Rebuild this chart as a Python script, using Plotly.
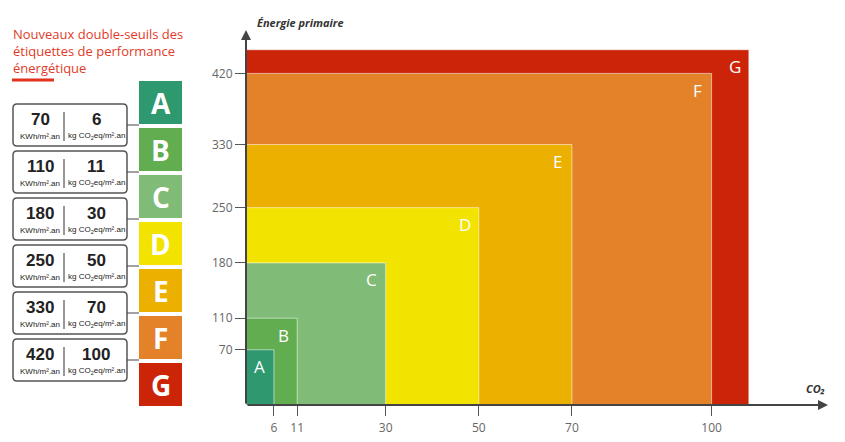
import plotly.graph_objects as go

# classes and thresholds
letters = ["A", "B", "C", "D", "E", "F", "G"]
colors = ["#2e986e", "#62ad50", "#80bc78", "#f2e400", "#ebb000", "#e38229", "#cc2408"]
ep_limits = [70, 110, 180, 250, 330, 420]      # kWh/m².an
co2_limits = [6, 11, 30, 50, 70, 100]          # kg CO2eq/m².an
# outer extent drawn for class G (no upper threshold)
g_extent_co2 = 108
g_extent_ep = 450

rect_co2 = co2_limits + [g_extent_co2]
rect_ep = ep_limits + [g_extent_ep]

# page has an 8px body margin, so the figure is 837x434 placed at (8, 8)
OFF = 8
W, H = 845 - OFF, 442 - OFF
fig = go.Figure()

# invisible traces so both axis pairs exist
fig.add_trace(go.Scatter(x=[0], y=[0], mode="markers", marker=dict(opacity=0),
                         hoverinfo="skip", showlegend=False))
fig.add_trace(go.Scatter(x=[OFF], y=[OFF], xaxis="x2", yaxis="y2", mode="markers",
                         marker=dict(opacity=0), hoverinfo="skip", showlegend=False))

shapes = []
annots = []

# nested rectangles, largest first
for i in reversed(range(len(letters))):
    shapes.append(dict(type="rect", xref="x", yref="y", x0=0, y0=0,
                       x1=rect_co2[i], y1=rect_ep[i], fillcolor=colors[i],
                       line=dict(color="rgba(255,255,255,0.55)", width=1), layer="above"))
    annots.append(dict(x=rect_co2[i], y=rect_ep[i], xref="x", yref="y", text=letters[i],
                       showarrow=False, xshift=-14, yshift=-17,
                       font=dict(family="Open Sans", size=17, color="white")))

# axis arrows
annots.append(dict(x=0, y=475, ax=0, ay=0, xref="x", yref="y", axref="x", ayref="y",
                   showarrow=True, arrowhead=2, arrowsize=1, arrowwidth=2, arrowcolor="#444", text=""))
annots.append(dict(x=125, y=0, ax=0, ay=0, xref="x", yref="y", axref="x", ayref="y",
                   showarrow=True, arrowhead=2, arrowsize=1, arrowwidth=2, arrowcolor="#444", text=""))
annots.append(dict(x=255, y=22, xref="x2", yref="y2", xanchor="left", text="<b><i>Énergie primaire</i></b>",
                   showarrow=False, font=dict(family="Open Sans", size=11, color="#333")))
annots.append(dict(x=827, y=388, xref="x2", yref="y2", xanchor="right", text="<b><i>CO₂</i></b>",
                   showarrow=False, font=dict(family="Open Sans", size=11, color="#333")))

# left panel: title
annots.append(dict(x=11, y=23, xref="x2", yref="y2", xanchor="left", yanchor="top", align="left",
                   text="Nouveaux double-seuils des<br>étiquettes de performance<br>énergétique",
                   showarrow=False, font=dict(family="Open Sans", size=13, color="#e23a28")))
shapes.append(dict(type="line", xref="x2", yref="y2", x0=12, x1=54, y0=80, y1=80,
                   line=dict(color="#e2311d", width=3)))

# colored letter squares
for i, let in enumerate(letters):
    top = 81 + 47 * i
    shapes.append(dict(type="rect", xref="x2", yref="y2", x0=139, x1=182, y0=top, y1=top + 43,
                       fillcolor=colors[i], line=dict(width=0)))
    annots.append(dict(x=160.5, y=top + 22, xref="x2", yref="y2", text="<b>" + let + "</b>",
                       showarrow=False, font=dict(family="Open Sans", size=28, color="white")))


def rounded(x0, y0, x1, y1, r):
    return (f"M {x0+r},{y0} H {x1-r} Q {x1},{y0} {x1},{y0+r} V {y1-r} Q {x1},{y1} {x1-r},{y1} "
            f"H {x0+r} Q {x0},{y1} {x0},{y1-r} V {y0+r} Q {x0},{y0} {x0+r},{y0} Z")


num_font = dict(family="Liberation Sans Narrow, Liberation Sans", size=17, color="#222")
unit_font = dict(family="Liberation Sans Narrow, Liberation Sans", size=8, color="#222")

# threshold boxes
for i in range(len(ep_limits)):
    top = 104 + 47 * i
    shapes.append(dict(type="path", xref="x2", yref="y2", path=rounded(13, top, 127, top + 42, 4),
                       fillcolor="white", line=dict(color="#555", width=1.5)))
    shapes.append(dict(type="line", xref="x2", yref="y2", x0=127, x1=139, y0=top + 21, y1=top + 21,
                       line=dict(color="#444", width=1)))
    shapes.append(dict(type="line", xref="x2", yref="y2", x0=64, x1=64, y0=top + 8, y1=top + 37,
                       line=dict(color="#333", width=1)))
    annots.append(dict(x=40, y=top + 15, xref="x2", yref="y2", text="<b>%d</b>" % ep_limits[i],
                       showarrow=False, font=num_font))
    annots.append(dict(x=96, y=top + 15, xref="x2", yref="y2", text="<b>%d</b>" % co2_limits[i],
                       showarrow=False, font=num_font))
    annots.append(dict(x=40, y=top + 32, xref="x2", yref="y2", text="KWh/m².an",
                       showarrow=False, font=unit_font))
    annots.append(dict(x=96, y=top + 32, xref="x2", yref="y2", text="kg CO<sub>2</sub>eq/m².an",
                       showarrow=False, font=unit_font))

tick_font = dict(family="Open Sans", size=12, color="#666")
fig.update_layout(
    width=W, height=H, margin=dict(l=0, r=0, t=0, b=0),
    plot_bgcolor="rgba(0,0,0,0)", paper_bgcolor="white", showlegend=False,
    xaxis=dict(domain=[(246 - OFF) / W, (828 - OFF) / W], range=[0, 125], tickvals=co2_limits,
               ticks="outside", ticklen=10, tickcolor="#555", tickfont=tick_font, ticklabelstandoff=2,
               showgrid=False, zeroline=False, showline=False, anchor="y", fixedrange=True),
    yaxis=dict(domain=[1 - (405 - OFF) / H, 1 - (30 - OFF) / H], range=[0, 475], tickvals=ep_limits,
               ticks="outside", ticklen=10, tickcolor="#555", tickfont=tick_font,
               showgrid=False, zeroline=False, showline=False, anchor="x", fixedrange=True),
    xaxis2=dict(domain=[0, 1], range=[OFF, 845], visible=False, anchor="y2", fixedrange=True),
    yaxis2=dict(domain=[0, 1], range=[442, OFF], visible=False, anchor="x2", fixedrange=True),
    shapes=shapes, annotations=annots,
)

fig.write_html("out.html")
